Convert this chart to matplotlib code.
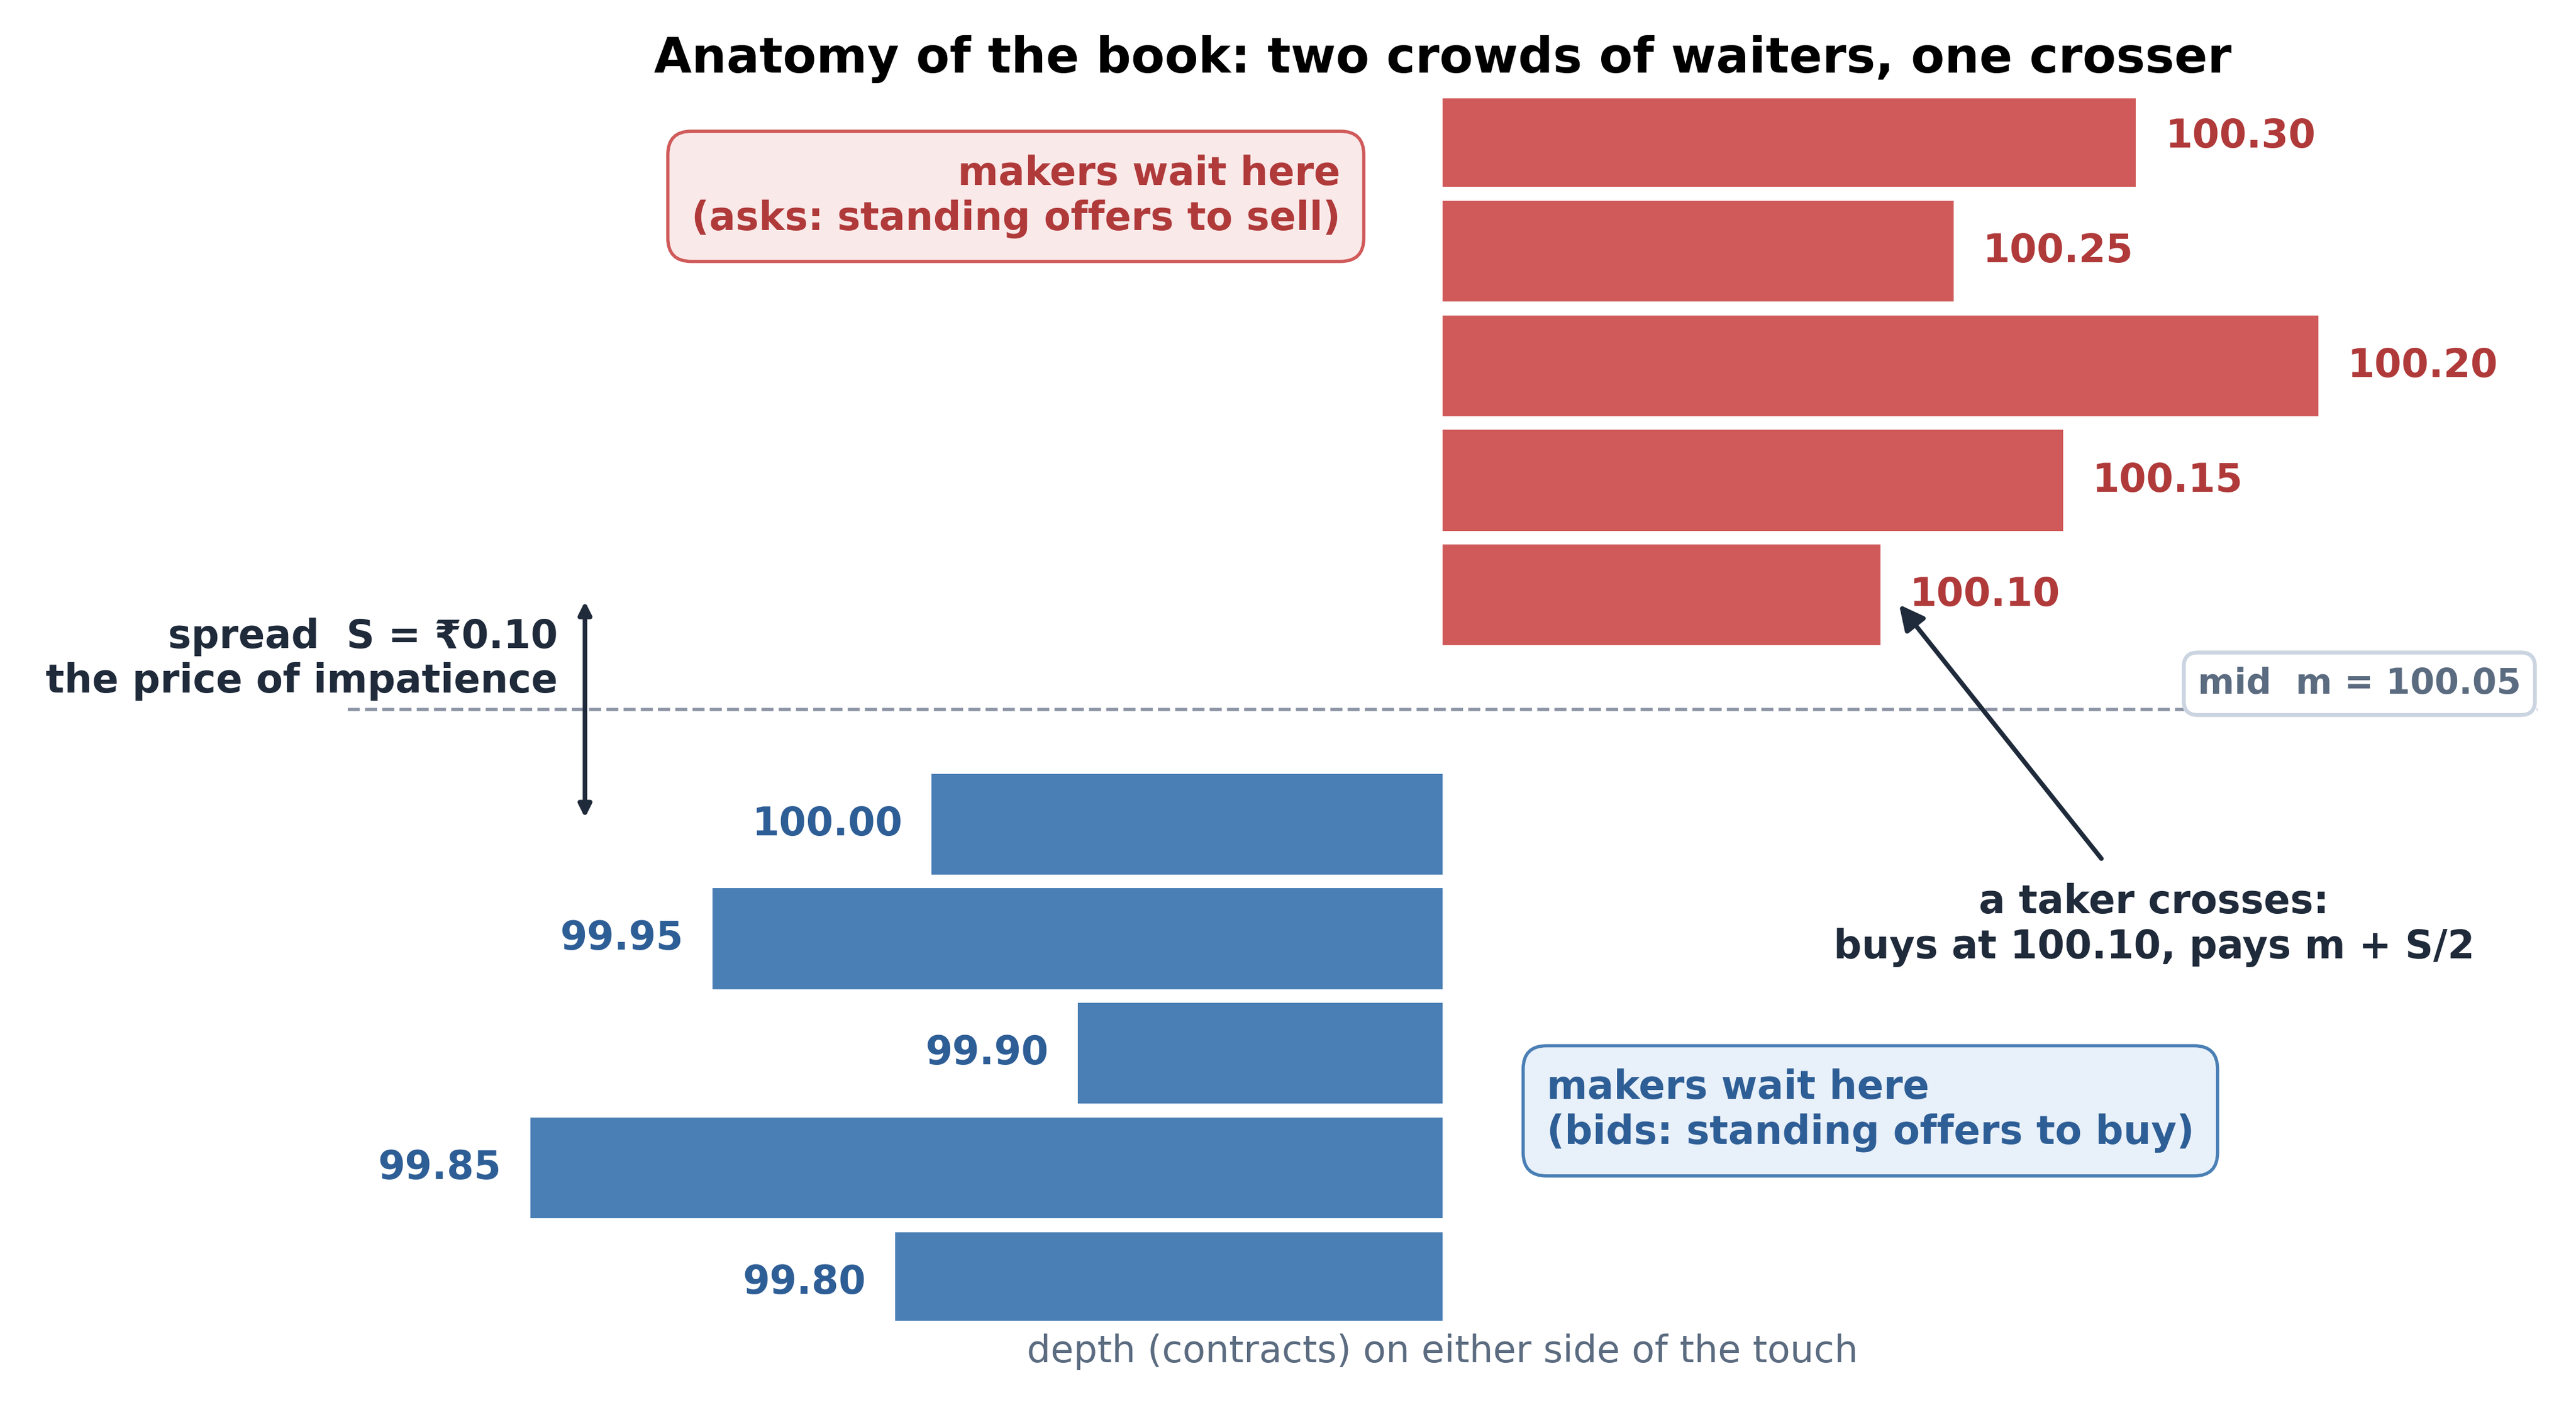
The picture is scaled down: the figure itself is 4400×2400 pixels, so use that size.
import matplotlib
matplotlib.use("Agg")
import matplotlib.pyplot as plt

# ---- data ----
ask_prices = [100.30, 100.25, 100.20, 100.15, 100.10]
ask_depth = [380, 280, 480, 340, 240]
bid_prices = [100.00, 99.95, 99.90, 99.85, 99.80]
bid_depth = [280, 400, 200, 500, 300]
mid_price = 100.05
best_bid = 100.00
best_ask = 100.10

title = "Anatomy of the book: two crowds of waiters, one crosser"
xlabel = "depth (contracts) on either side of the touch"

ASK = "#d05a5a"
ASK_TXT = "#b03a3a"
ASK_FACE = "#fae9e9"
BID = "#4a7fb5"
BID_TXT = "#2e5e96"
BID_FACE = "#e8f0f9"
DARK = "#1f2a3a"
GREY = "#5b6b80"
LINE = "#8d95a6"

plt.rcParams['font.family'] = ['DejaVu Sans']

fig = plt.figure(figsize=(11, 6), dpi=400)
ax = fig.add_axes([0.135, 0.06, 0.850, 0.87])

ax.barh(ask_prices, ask_depth, height=0.044, color=ASK, zorder=2)
ax.barh(bid_prices, [-d for d in bid_depth], height=0.044, color=BID, zorder=2)

for p, d in zip(ask_prices, ask_depth):
    ax.text(d + 16, p, f"{p:.2f}", ha='left', va='center', fontsize=12,
            fontweight='bold', color=ASK_TXT)
for p, d in zip(bid_prices, bid_depth):
    ax.text(-d - 16, p, f"{p:.2f}", ha='right', va='center', fontsize=12,
            fontweight='bold', color=BID_TXT)

ax.axhline(mid_price, ls='--', lw=1.0, color=LINE, zorder=1)
ax.text(591, mid_price + 0.0037, f"mid  m = {mid_price:.2f}", ha='right', va='bottom',
        fontsize=10.75, fontweight='bold', color=GREY, zorder=3,
        bbox=dict(boxstyle='round,pad=0.4', fc='white', ec='#cbd5e1', lw=1.2))

# spread arrow
ax.annotate("", xy=(-470, best_bid), xytext=(-470, best_ask),
            arrowprops=dict(arrowstyle='<|-|>', color=DARK, lw=1.4, mutation_scale=8))
ax.text(-485, 100.072, "spread  S = \u20b90.10\nthe price of impatience", ha='right',
        va='center', fontsize=12, fontweight='bold', color=DARK, multialignment='right')

# maker boxes
ax.text(-56, 100.274, "makers wait here\n(asks: standing offers to sell)", ha='right',
        va='center', fontsize=12, fontweight='bold', color=ASK_TXT, multialignment='right',
        bbox=dict(boxstyle='round,pad=0.6', fc=ASK_FACE, ec=ASK, lw=1.0))
ax.text(57, 99.875, "makers wait here\n(bids: standing offers to buy)", ha='left',
        va='center', fontsize=12, fontweight='bold', color=BID_TXT, multialignment='left',
        bbox=dict(boxstyle='round,pad=0.6', fc=BID_FACE, ec=BID, lw=1.0))

# taker annotation
ax.annotate("a taker crosses:\nbuys at 100.10, pays m + S/2", xy=(248, 100.098),
            xytext=(390, 99.956), ha='center', va='center', fontsize=12,
            fontweight='bold', color=DARK, multialignment='center',
            arrowprops=dict(arrowstyle='-|>', color=DARK, lw=1.4, mutation_scale=16,
                            shrinkA=7, shrinkB=2))

ax.set_xlim(-600, 600)
ax.set_ylim(99.7833, 100.3167)
ax.set_xticks([])
ax.set_yticks([])
for s in ax.spines.values():
    s.set_visible(False)
ax.set_title(title, fontsize=15, fontweight='bold', pad=8)
ax.set_xlabel(xlabel, fontsize=11.5, color=GREY, labelpad=4)

fig.savefig("out.png", dpi=400)
